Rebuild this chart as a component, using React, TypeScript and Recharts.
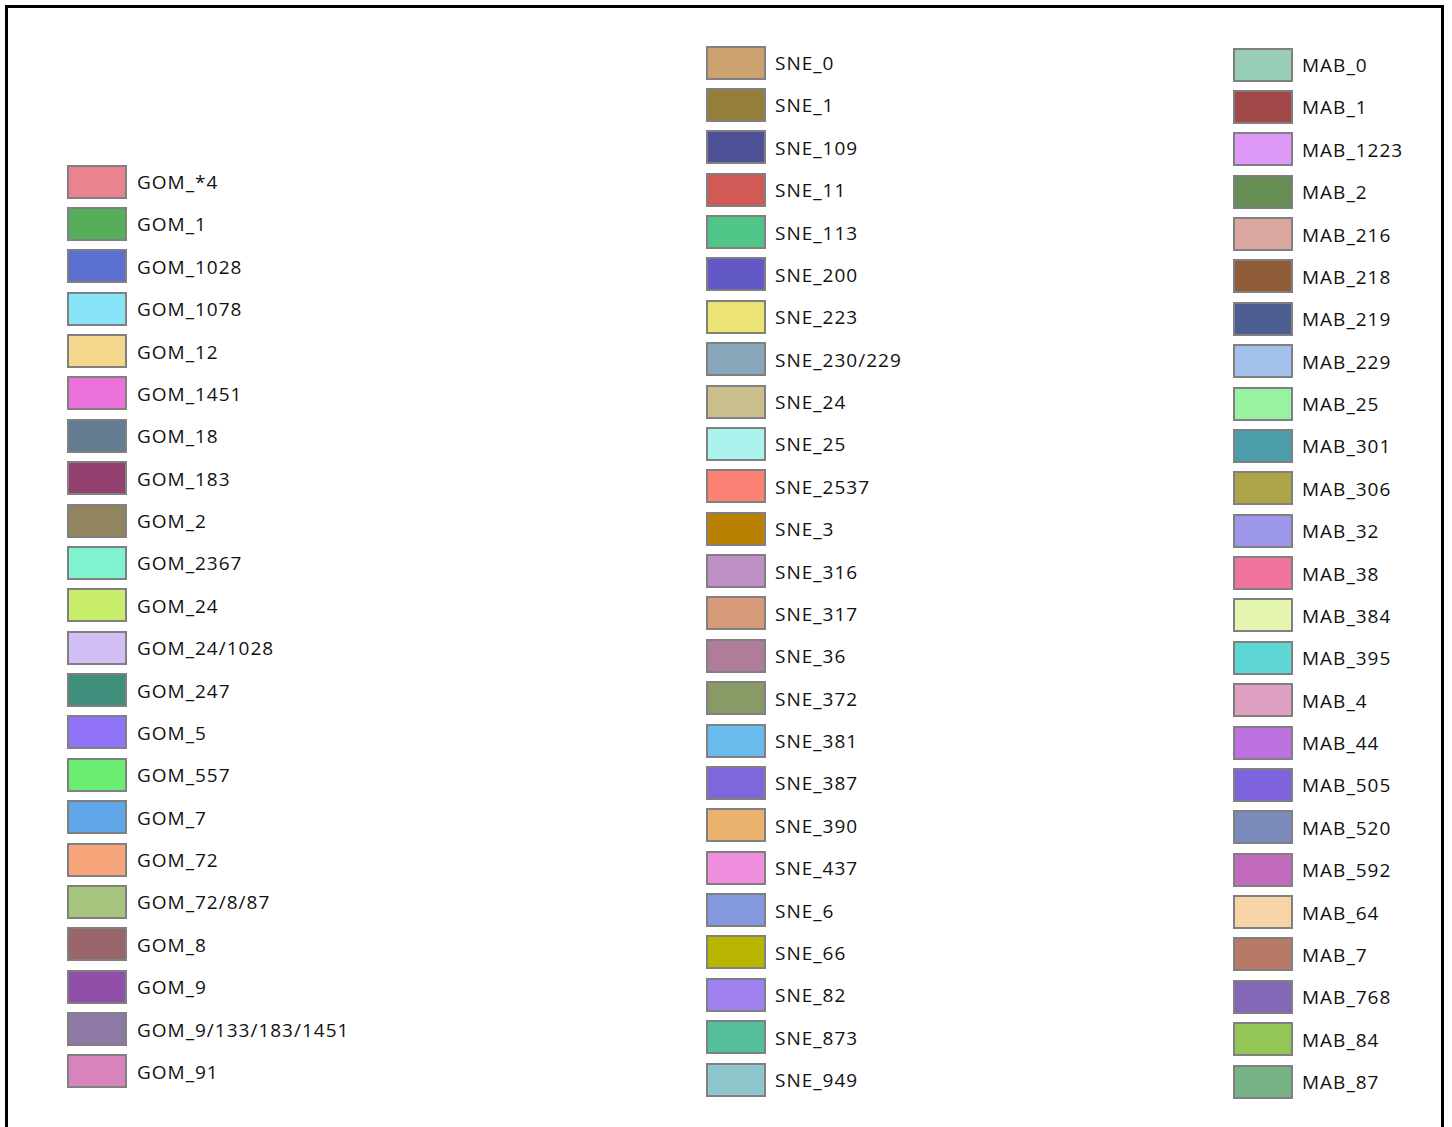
import React from 'react'
import { BarChart, Bar, XAxis, YAxis, Legend } from 'recharts'

// legend groups
const gomNames = ['GOM_*4', 'GOM_1', 'GOM_1028', 'GOM_1078', 'GOM_12', 'GOM_1451', 'GOM_18', 'GOM_183', 'GOM_2', 'GOM_2367', 'GOM_24', 'GOM_24/1028', 'GOM_247', 'GOM_5', 'GOM_557', 'GOM_7', 'GOM_72', 'GOM_72/8/87', 'GOM_8', 'GOM_9', 'GOM_9/133/183/1451', 'GOM_91']
const gomColors = ['#E8838F', '#56AE5B', '#5A6FD0', '#87E3F6', '#F5D68D', '#EA72DA', '#647C91', '#934170', '#92845F', '#7FF3D0', '#C8EE6C', '#D1BFF6', '#3F8F7C', '#9173FA', '#6BEE72', '#62A6EA', '#F6A67A', '#A5C47E', '#99646A', '#8F4FA8', '#8E79A6', '#D784BC']

const sneNames = ['SNE_0', 'SNE_1', 'SNE_109', 'SNE_11', 'SNE_113', 'SNE_200', 'SNE_223', 'SNE_230/229', 'SNE_24', 'SNE_25', 'SNE_2537', 'SNE_3', 'SNE_316', 'SNE_317', 'SNE_36', 'SNE_372', 'SNE_381', 'SNE_387', 'SNE_390', 'SNE_437', 'SNE_6', 'SNE_66', 'SNE_82', 'SNE_873', 'SNE_949']
const sneColors = ['#CCA26E', '#937F3B', '#4E5197', '#D25A56', '#4FC688', '#6258C6', '#EDE374', '#88A7BB', '#C9BE8C', '#AAF2EC', '#FC8275', '#B88200', '#BE90C6', '#D89B7A', '#AF7D9A', '#8A9A66', '#6CBBEE', '#7F66DA', '#EAB26E', '#EF8EDD', '#8499DB', '#B8B400', '#9F82EE', '#55BE9C', '#8FC6CC']

const mabNames = ['MAB_0', 'MAB_1', 'MAB_1223', 'MAB_2', 'MAB_216', 'MAB_218', 'MAB_219', 'MAB_229', 'MAB_25', 'MAB_301', 'MAB_306', 'MAB_32', 'MAB_38', 'MAB_384', 'MAB_395', 'MAB_4', 'MAB_44', 'MAB_505', 'MAB_520', 'MAB_592', 'MAB_64', 'MAB_7', 'MAB_768', 'MAB_84', 'MAB_87']
const mabColors = ['#97CEB5', '#A04848', '#DE98F7', '#668E52', '#DAA89E', '#8F5E38', '#4D5E92', '#A2C1EB', '#98F2A2', '#4C9DAA', '#ADA547', '#9C97E9', '#F073A0', '#E3F5AE', '#5ED6D4', '#E0A0C2', '#BE71E0', '#7F63DC', '#7A8BBB', '#C26BBD', '#F6D4A8', '#B77A66', '#8468B7', '#94C656', '#76B284']

const allNames = [...gomNames, ...sneNames, ...mabNames]
const allColors = [...gomColors, ...sneColors, ...mabColors]

const chartData = [
  Object.fromEntries([['name', 'x'], ...allNames.map((n) => [n, 0])]),
]

const W = 1452
const H = 1127
const ROW = 42.38

const columns = [
  { prefix: 'GOM', x: 67, textX: 137, top: 181.5 },
  { prefix: 'SNE', x: 706, textX: 775, top: 62.5 },
  { prefix: 'MAB', x: 1233, textX: 1302, top: 64.5 },
]

function LegendColumns(props: any) {
  const payload = props.payload && props.payload.length
    ? props.payload.map((p: any) => ({ value: String(p.value), color: p.color }))
    : allNames.map((n, i) => ({ value: n, color: allColors[i] }))

  return (
    <div style={{ position: 'relative', width: W, height: H }}>
      {columns.map((col) =>
        payload
          .filter((p: any) => p.value.startsWith(col.prefix))
          .map((p: any, i: number) => {
            const cy = col.top + i * ROW
            return (
              <React.Fragment key={p.value}>
                <div
                  style={{
                    position: 'absolute',
                    left: col.x,
                    top: cy - 17,
                    width: 60,
                    height: 34,
                    boxSizing: 'border-box',
                    border: '2.5px solid #808080',
                    backgroundColor: p.color,
                  }}
                />
                <div
                  style={{
                    position: 'absolute',
                    left: col.textX,
                    top: cy - 13.5,
                    height: 28,
                    lineHeight: '28px',
                    fontSize: 19,
                    letterSpacing: '1px',
                    color: '#111',
                    whiteSpace: 'nowrap',
                  }}
                >
                  {p.value}
                </div>
              </React.Fragment>
            )
          })
      )}
    </div>
  )
}

export default function App() {
  return (
    <div style={{ position: 'relative', width: W, height: H, overflow: 'hidden', background: '#fff', fontFamily: '"Open Sans", "Noto Sans", sans-serif' }}>
      <style>{'body{margin:0}'}</style>
      <div
        style={{
          position: 'absolute',
          left: 5,
          top: 5,
          width: 1439,
          height: 1200,
          boxSizing: 'border-box',
          border: '3px solid #000',
        }}
      />
      <BarChart width={W} height={H} data={chartData} margin={{ top: 0, right: 0, bottom: 0, left: 0 }}>
        <XAxis dataKey="name" hide />
        <YAxis hide domain={[0, 1]} />
        {allNames.map((n, i) => (
          <Bar key={n} dataKey={n} name={n} fill={allColors[i]} isAnimationActive={false} />
        ))}
        <Legend
          content={<LegendColumns />}
          wrapperStyle={{ position: 'absolute', left: 0, top: 0, width: W, height: H }}
        />
      </BarChart>
    </div>
  )
}
